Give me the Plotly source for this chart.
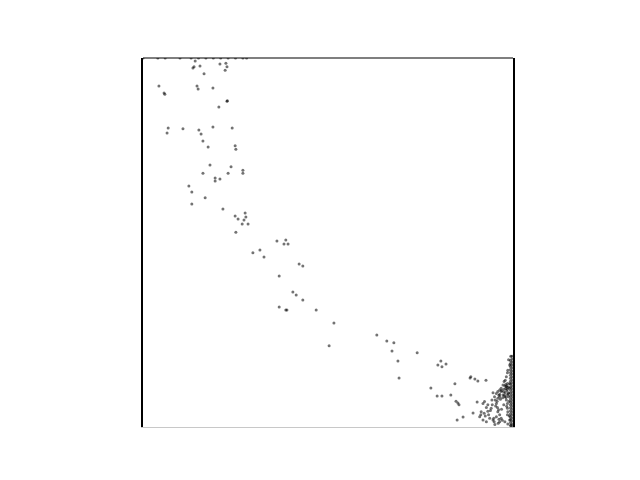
import plotly.graph_objects as go

# Scattered points along the descending curve (normalised data units)
curve_x = [0.141, 0.135, 0.138, 0.154, 0.208, 0.224, 0.227, 0.222, 0.165, 0.043,
           0.057, 0.059, 0.146, 0.149, 0.189, 0.227, 0.228, 0.205, 0.068, 0.065,
           0.108, 0.151, 0.157, 0.162, 0.176, 0.189, 0.241, 0.249, 0.251, 0.181,
           0.162, 0.238, 0.230, 0.270, 0.270, 0.195, 0.195, 0.208, 0.124, 0.132,
           0.168, 0.132, 0.216, 0.249, 0.276, 0.278, 0.257, 0.273, 0.268, 0.284,
           0.251, 0.297, 0.316, 0.327, 0.362, 0.386, 0.381, 0.392, 0.422, 0.432,
           0.368, 0.405, 0.414, 0.432, 0.368, 0.386, 0.389, 0.468, 0.516, 0.503,
           0.632, 0.659, 0.678, 0.673, 0.741, 0.689, 0.692, 0.805, 0.797, 0.808,
           0.819, 0.778, 0.795, 0.808, 0.832, 0.843, 0.884, 0.897, 0.905, 0.927,
           0.846, 0.851, 0.854, 0.849, 0.865, 0.903, 0.892]
curve_y = [0.992, 0.973, 0.976, 0.978, 0.984, 0.986, 0.976, 0.967, 0.957, 0.924,
           0.905, 0.902, 0.924, 0.916, 0.919, 0.883, 0.884, 0.867, 0.810, 0.797,
           0.808, 0.805, 0.794, 0.775, 0.759, 0.813, 0.810, 0.762, 0.753, 0.710,
           0.688, 0.705, 0.688, 0.696, 0.688, 0.675, 0.667, 0.672, 0.653, 0.637,
           0.621, 0.604, 0.591, 0.572, 0.580, 0.569, 0.564, 0.561, 0.550, 0.550,
           0.528, 0.472, 0.480, 0.461, 0.504, 0.507, 0.496, 0.496, 0.442, 0.436,
           0.409, 0.366, 0.358, 0.344, 0.325, 0.317, 0.317, 0.317, 0.282, 0.220,
           0.249, 0.233, 0.228, 0.206, 0.201, 0.179, 0.133, 0.179, 0.168, 0.163,
           0.171, 0.106, 0.084, 0.084, 0.087, 0.117, 0.133, 0.130, 0.125, 0.127,
           0.070, 0.065, 0.060, 0.019, 0.027, 0.068, 0.038]

# Points sitting on the top edge
top_x = [0.0, 0.04, 0.06, 0.10, 0.13, 0.15, 0.17, 0.19, 0.21, 0.23, 0.25, 0.27, 0.28]
top_y = [1.0] * len(top_x)

# Dense cluster near the lower-right corner
cluster_x = [0.994, 0.988, 0.991, 0.986, 0.985, 0.982, 0.979, 0.976, 0.985, 0.991,
             0.973, 0.978, 0.982, 0.986, 0.968, 0.976, 0.985, 0.964, 0.959, 0.968,
             0.979, 0.988, 0.955, 0.964, 0.973, 0.985, 0.950, 0.964, 0.978, 0.988,
             0.946, 0.943, 0.952, 0.959, 0.982, 0.923, 0.932, 0.955, 0.985, 0.919,
             0.928, 0.941, 0.958, 0.985, 0.914, 0.922, 0.932, 0.959, 0.986, 0.913,
             0.925, 0.937, 0.964, 0.985, 0.910, 0.919, 0.946, 0.955, 0.968, 0.978,
             0.991, 0.928, 0.949, 0.964, 0.986, 0.995, 0.886, 0.980, 0.983, 0.987,
             0.975, 0.981, 0.984, 0.970, 0.990, 0.977, 0.972, 0.962, 0.957, 0.966,
             0.981, 0.989, 0.953, 0.961, 0.944, 0.939, 0.934, 0.948, 0.960, 0.971,
             0.975, 0.983, 0.990, 0.969, 0.962, 0.951]
cluster_y = [0.192, 0.182, 0.168, 0.154, 0.147, 0.136, 0.127, 0.123, 0.118, 0.118,
             0.114, 0.111, 0.109, 0.108, 0.105, 0.102, 0.102, 0.100, 0.096, 0.096,
             0.093, 0.093, 0.091, 0.089, 0.087, 0.087, 0.082, 0.082, 0.082, 0.082,
             0.093, 0.073, 0.073, 0.078, 0.073, 0.069, 0.060, 0.064, 0.064, 0.064,
             0.053, 0.051, 0.053, 0.051, 0.041, 0.037, 0.043, 0.041, 0.041, 0.033,
             0.030, 0.024, 0.033, 0.033, 0.028, 0.019, 0.019, 0.028, 0.024, 0.014,
             0.019, 0.014, 0.014, 0.014, 0.008, 0.005, 0.136, 0.115, 0.098, 0.090,
             0.095, 0.104, 0.112, 0.099, 0.106, 0.086, 0.079, 0.086, 0.070, 0.075,
             0.080, 0.070, 0.057, 0.047, 0.060, 0.045, 0.033, 0.024, 0.010, 0.018,
             0.060, 0.056, 0.030, 0.048, 0.021, 0.007]

# Points piled against the right edge
edge_y = [0.0, 0.008, 0.016, 0.024, 0.032, 0.040, 0.048, 0.056, 0.064, 0.072,
          0.080, 0.088, 0.096, 0.104, 0.112, 0.120, 0.128, 0.136, 0.144, 0.152,
          0.160, 0.168, 0.176, 0.184, 0.192, 0.004, 0.012, 0.020, 0.028, 0.036,
          0.044, 0.052, 0.060, 0.068, 0.076, 0.084, 0.092, 0.100, 0.108, 0.116,
          0.124, 0.132, 0.140, 0.148, 0.156, 0.164, 0.172, 0.180]
edge_x = [0.997] * 25 + [0.993] * 23

xs = curve_x + top_x + cluster_x + edge_x
ys = curve_y + top_y + cluster_y + edge_y

fig = go.Figure()
fig.add_trace(go.Scatter(
    x=xs, y=ys, mode="markers",
    marker=dict(color="black", size=3, opacity=0.55, line=dict(width=0)),
    cliponaxis=True, showlegend=False, hoverinfo="skip",
))

fig.update_layout(
    width=640, height=480,
    margin=dict(l=143, r=127, t=58, b=53),
    paper_bgcolor="white", plot_bgcolor="white",
    xaxis=dict(range=[0, 1], showgrid=False, zeroline=False, showticklabels=False,
               ticks="", showline=True, linecolor="#c8c8c8", linewidth=1),
    yaxis=dict(range=[0, 1], showgrid=False, zeroline=False, showticklabels=False,
               ticks="", showline=True, linecolor="black", linewidth=1.5, mirror=True),
    shapes=[dict(type="line", xref="paper", yref="paper", x0=0, x1=1, y0=1, y1=1,
                 line=dict(color="black", width=1.2))],
)

fig.write_html("out.html")
